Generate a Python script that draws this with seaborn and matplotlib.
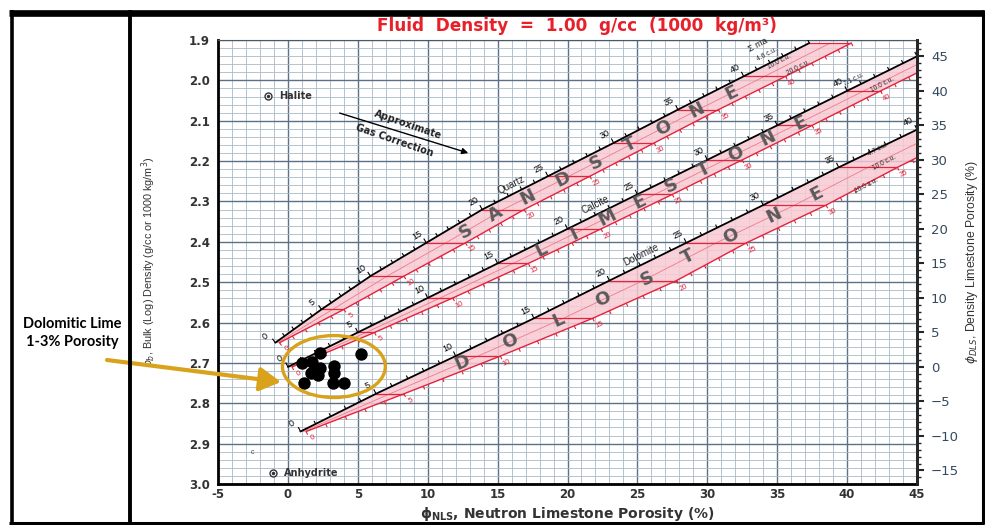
import numpy as np
import pandas as pd
import matplotlib
matplotlib.use("Agg")
import matplotlib.pyplot as plt
import seaborn as sns
from matplotlib.patches import Ellipse
from matplotlib.lines import Line2D
from matplotlib.collections import LineCollection

# ---------------- data ----------------
por_labels = [0, 5, 10, 15, 20, 25, 30, 35, 40, 45]

sand_nphi = [-0.9, 2.4, 5.9, 9.9, 13.9, 18.6, 23.3, 27.9, 32.6, 37.3]
sand_rhob = [2.65, 2.5675, 2.485, 2.4025, 2.32, 2.2375, 2.155, 2.0725, 1.99, 1.9075]
sand_shift = [0.3, 1.6, 2.4, 2.8, 3.0, 3.0, 2.9, 2.9, 3.0, 3.0]

lime_nphi = [0, 5, 10, 15, 20, 25, 30, 35, 40, 45]
lime_rhob = [2.71, 2.6245, 2.539, 2.4535, 2.368, 2.2825, 2.197, 2.1115, 2.026, 1.9405]
lime_shift = [0.3, 1.2, 1.8, 2.2, 2.4, 2.5, 2.5, 2.5, 2.4, 2.4]

dolo_por = [0, 5, 10, 15, 20, 25, 30, 35, 40]
dolo_nphi = [0.9, 6.3, 12.0, 17.6, 23.0, 28.5, 34.0, 39.4, 45.0]
dolo_rhob = [2.87, 2.7765, 2.683, 2.5895, 2.496, 2.4025, 2.309, 2.2155, 2.122]
dolo_shift = [0.4, 2.0, 3.2, 4.2, 4.8, 4.3, 4.5, 4.2, 4.0]

sample_nphi = [2.29, 5.21, 1.00, 1.71, 3.29, 2.29, 1.64, 3.29, 2.14, 1.14, 3.21, 4.00]
sample_rhob = [2.675, 2.677, 2.699, 2.697, 2.707, 2.712, 2.724, 2.724, 2.729, 2.749, 2.749, 2.749]

x_ticks = [-5, 0, 5, 10, 15, 20, 25, 30, 35, 40, 45]
y_ticks = [1.9, 2.0, 2.1, 2.2, 2.3, 2.4, 2.5, 2.6, 2.7, 2.8, 2.9, 3.0]
right_ticks = [-15, -10, -5, 0, 5, 10, 15, 20, 25, 30, 35, 40, 45]

# ---------------- styling ----------------
sns.set_style("white")
plt.rcParams['font.family'] = ['Liberation Sans', 'DejaVu Sans']
plt.rcParams['mathtext.fontset'] = 'dejavusans'

W, H = 985, 525
fig = plt.figure(figsize=(W / 100, H / 100), dpi=100)
fig.patch.set_facecolor('white')

ax = fig.add_axes([218 / W, 41 / H, 699 / W, 444 / H])
ax.set_xlim(-5, 45)
ax.set_ylim(3.0, 1.9)

RED = '#e5233a'
LRED = '#f07a8a'
PINK = '#f8c9d3'
GOLD = '#d9a21b'
MAJ = '#5c7186'
MIN = '#a9bac9'

ax.set_xticks(x_ticks)
ax.set_xticks(np.arange(-5, 45.01, 1), minor=True)
ax.set_yticks(y_ticks)
ax.set_yticks(np.arange(1.9, 3.001, 0.02), minor=True)
ax.set_xticklabels([str(v) for v in x_ticks])
ax.set_yticklabels([f'{v:.1f}' for v in y_ticks])
ax.grid(which='minor', color=MIN, lw=0.6)
ax.grid(which='major', color=MAJ, lw=1.0)
ax.set_axisbelow(True)
ax.tick_params(which='both', length=0)
ax.tick_params(axis='y', pad=6, labelsize=8.5, labelcolor='#333333')
ax.tick_params(axis='x', pad=3, labelsize=8.5, labelcolor='#333333')
for lab in ax.get_xticklabels() + ax.get_yticklabels():
    lab.set_fontweight('bold')
    lab.set_family('DejaVu Sans')
for s in ['left', 'bottom']:
    ax.spines[s].set_linewidth(2.0)
    ax.spines[s].set_color('black')
ax.spines['right'].set_linewidth(2.0)
ax.spines['top'].set_linewidth(0.8)
ax.spines['top'].set_color('#4a5a6a')

ax.set_ylabel(r'$\rho_b$, Bulk (Log) Density (g/cc or 1000 kg/m$^3$)',
              fontsize=7.8, color='#333333')
ax.yaxis.set_label_coords((158 - 218) / 699, 0.5)
ax.set_xlabel(r'$\mathbf{\phi_{NLS}}$, Neutron Limestone Porosity (%)',
              fontsize=10, fontweight='bold', color='#333333', labelpad=3,
              family='DejaVu Sans')

ax2 = ax.twinx()
ax2.set_ylim((2.71 - 3.0) / 1.71 * 100, (2.71 - 1.9) / 1.71 * 100)
ax2.set_yticks(right_ticks)
ax2.set_yticks(np.arange(-16, 48, 1), minor=True)
ax2.set_yticklabels([str(v) if v >= 0 else '\u2212' + str(-v) for v in right_ticks])
ax2.tick_params(axis='y', which='major', length=5, width=1.5, direction='out',
                labelsize=9.5, labelcolor='#34495e', pad=5)
ax2.tick_params(axis='y', which='minor', length=3, width=1.0, direction='out')
for lab in ax2.get_yticklabels():
    lab.set_family('DejaVu Sans')
for s in ['left', 'top', 'bottom']:
    ax2.spines[s].set_visible(False)
ax2.spines['right'].set_linewidth(2.0)
ax2.set_ylabel(r'$\phi_{DLS}$, Density Limestone Porosity (%)', fontsize=8.8,
               color='#333333', rotation=90)
ax2.yaxis.set_label_coords(1 + (964 - 917) / 699, 0.5)
ax2.grid(False)


# ---------------- helpers for curve decorations ----------------
def to_disp(x, y):
    return ax.transData.transform(np.column_stack([np.atleast_1d(x), np.atleast_1d(y)]))


def to_data(P):
    return ax.transData.inverted().transform(P)


def curve_at(p, por, xs, ys):
    return np.interp(p, por, xs), np.interp(p, por, ys)


def tangent(p, por, xs, ys):
    a = to_disp(*curve_at(p - 0.5, por, xs, ys))
    b = to_disp(*curve_at(p + 0.5, por, xs, ys))
    t = b - a
    t = t / np.linalg.norm(t, axis=1, keepdims=True)
    return t


def draw_litho(por, nphi, rhob, shift, pmax_lab, letters, p0, dp, mineral, mp):
    por = np.asarray(por, float)
    nphi = np.asarray(nphi, float)
    rhob = np.asarray(rhob, float)
    shift = np.asarray(shift, float)
    red_n = nphi + shift
    mid_n = nphi + 0.5 * shift

    # pink band
    ax.fill(np.r_[nphi, red_n[::-1]], np.r_[rhob, rhob[::-1]], color=PINK,
            lw=0, zorder=2, alpha=0.85)
    # red lines
    ax.plot(mid_n, rhob, color=LRED, lw=0.6, zorder=3)
    ax.plot(red_n, rhob, color=RED, lw=1.0, zorder=3)
    # tie lines every 5
    for i in range(1, len(por)):
        ax.plot([nphi[i], red_n[i]], [rhob[i], rhob[i]], color=RED, lw=0.9, zorder=3)
    # black line
    df = pd.DataFrame({'n': nphi, 'r': rhob})
    sns.lineplot(data=df, x='n', y='r', sort=False, estimator=None, color='black',
                 lw=1.3, ax=ax, zorder=4)

    # ticks every 1 porosity unit
    ps = np.arange(0, por[-1] + 0.01, 1.0)
    segs_b, segs_r = [], []
    for p in ps:
        t = tangent(p, por, nphi, rhob)[0]
        nrm = np.array([-t[1], t[0]])
        P = to_disp(*curve_at(p, por, nphi, rhob))[0]
        L = 5 if p % 5 == 0 else 3.5
        segs_b.append(to_data(np.array([P, P + L * nrm])))
        Pr = to_disp(*curve_at(p, por, red_n, rhob))[0]
        segs_r.append(to_data(np.array([Pr, Pr - 3.5 * nrm])))
    ax.add_collection(LineCollection(segs_b, colors='black', lw=0.8, zorder=4))
    ax.add_collection(LineCollection(segs_r, colors=RED, lw=0.8, zorder=3))

    # labels
    for p in por:
        if p > pmax_lab:
            continue
        t = tangent(p, por, nphi, rhob)[0]
        ang = np.degrees(np.arctan2(t[1], t[0]))
        nrm = np.array([-t[1], t[0]])
        P = to_disp(*curve_at(p, por, nphi, rhob))[0]
        q = to_data((P + 11 * nrm - 4 * t)[None, :])[0]
        ax.text(q[0], q[1], f'{int(p)}', fontsize=6.5, rotation=ang, ha='center',
                va='center', color='black', zorder=5, clip_on=True,
                rotation_mode='anchor')
        Pr = to_disp(*curve_at(p, por, red_n, rhob))[0]
        q = to_data((Pr - 9 * nrm + 3 * t)[None, :])[0]
        ax.text(q[0], q[1], f'{int(p)}', fontsize=5.5, rotation=ang, ha='center',
                va='center', color=RED, zorder=5, clip_on=True,
                rotation_mode='anchor')

    # big letters along band centre
    for k, ch in enumerate(letters):
        p = p0 + k * dp
        x, y = curve_at(p, por, mid_n, rhob)
        t = tangent(p, por, mid_n, rhob)[0]
        ang = np.degrees(np.arctan2(t[1], t[0]))
        ax.text(x, y, ch, fontsize=13, fontweight='bold', color='#5a5a5a',
                rotation=ang, ha='center', va='center', zorder=5,
                family='DejaVu Sans', rotation_mode='anchor')

    # mineral name
    t = tangent(mp, por, nphi, rhob)[0]
    ang = np.degrees(np.arctan2(t[1], t[0]))
    nrm = np.array([-t[1], t[0]])
    P = to_disp(*curve_at(mp, por, nphi, rhob))[0]
    q = to_data((P + 9 * nrm)[None, :])[0]
    ax.text(q[0], q[1], mineral, fontsize=7, rotation=ang, ha='center',
            va='center', color='#222222', zorder=5, rotation_mode='anchor')


draw_litho(por_labels, sand_nphi, sand_rhob, sand_shift, 40,
           'SANDSTONE', 16.7, 2.6, 'Quartz', 22.5)
draw_litho(por_labels, lime_nphi, lime_rhob, lime_shift, 40,
           'LIMESTONE', 17.0, 2.3, 'Calcite', 22.3)
draw_litho(dolo_por, dolo_nphi, dolo_rhob, dolo_shift, 40,
           'DOLOSTONE', 9.1, 2.8, 'Dolomite', 22.3)

# Sigma-ma annotations
cu = [('\u03a3 ma', 33.6, 1.913, 6.5), ('4.6 c.u.', 34.3, 1.937, 4.8),
      ('10.0 c.u.', 35.2, 1.955, 4.8), ('20.0 c.u.', 36.5, 1.968, 4.8),
      ('7.1 c.u.', 40.5, 1.999, 4.8), ('10.0 c.u.', 42.5, 2.011, 4.8),
      ('4.7 c.u.', 42.2, 2.172, 4.8), ('10.0 c.u.', 42.7, 2.204, 4.8),
      ('20.0 c.u.', 41.4, 2.261, 4.8)]
for s, x, y, fs in cu:
    ax.text(x, y, s, fontsize=fs, rotation=28, ha='center', va='center',
            color='#222222', zorder=5)

# minerals
for name, x, y in [('Halite', -1.43, 2.039), ('Anhydrite', -1.07, 2.972)]:
    ax.plot(x, y, marker='o', ms=5, mfc='white', mec='#333333', mew=1.0, zorder=5)
    ax.plot(x, y, marker='o', ms=1.5, color='#333333', zorder=6)
    ax.text(x + 0.8, y, name, fontsize=7, fontweight='bold', color='#333333',
            va='center', ha='left', zorder=5, family='DejaVu Sans')
ax.text(-2.5, 2.922, 'c', fontsize=5, color='#444444', ha='center', va='center')

# gas correction arrow
ax.annotate('', xy=(12.9, 2.18), xytext=(3.7, 2.081),
            arrowprops=dict(arrowstyle='-|>', color='black', lw=1.0,
                            mutation_scale=9, shrinkA=0, shrinkB=0), zorder=5)
ax.text(8.6, 2.111, 'Approximate', fontsize=7, rotation=-19, ha='center',
        va='center', color='#222222', fontweight='bold', family='DejaVu Sans')
ax.text(7.6, 2.149, 'Gas Correction', fontsize=7, rotation=-19, ha='center',
        va='center', color='#222222', fontweight='bold', family='DejaVu Sans')

# sample points
sns.scatterplot(x=sample_nphi, y=sample_rhob, s=80, color='black',
                edgecolor='black', linewidth=0, ax=ax, zorder=7, legend=False)

# highlight ellipse
ax.add_patch(Ellipse((3.29, 2.709), 7.36, 0.1535, fill=False, ec=GOLD, lw=2.4,
                     zorder=8))

# title
fig.text(577 / W, 1 - 26 / H, 'Fluid  Density  =  1.00  g/cc  (1000  kg/m\u00b3)',
         color='#e8202a', fontsize=12.2, fontweight='bold', ha='center',
         va='center', family='DejaVu Sans')

# annotation text + arrow
fig.text(72 / W, 1 - 333 / H, 'Dolomitic Lime\n1-3% Porosity', fontsize=10.5,
         fontweight='bold', family='Lato', ha='center', va='center',
         linespacing=1.35, color='black')
ax.annotate('', xy=(281, H - 382), xycoords='figure pixels',
            xytext=(107, H - 360), textcoords='figure pixels',
            arrowprops=dict(arrowstyle='-|>,head_length=0.8,head_width=0.45',
                            color=GOLD, lw=3.0, shrinkA=0, shrinkB=0,
                            mutation_scale=16),
            annotation_clip=False, zorder=9)


# frame lines
def fline(x0, y0, x1, y1, lw):
    fig.add_artist(Line2D([x0 / W, x1 / W], [1 - y0 / H, 1 - y1 / H],
                          transform=fig.transFigure, color='black', lw=lw,
                          solid_capstyle='butt'))


fline(9, 13, 984, 13, 4.8)
fline(11.5, 10, 11.5, 524, 2.6)
fline(130, 10, 130, 524, 2.8)
fline(9, 522.5, 984, 522.5, 2.2)
fline(982.5, 10, 982.5, 524, 2.2)

fig.savefig('out.png', dpi=100, facecolor='white')
